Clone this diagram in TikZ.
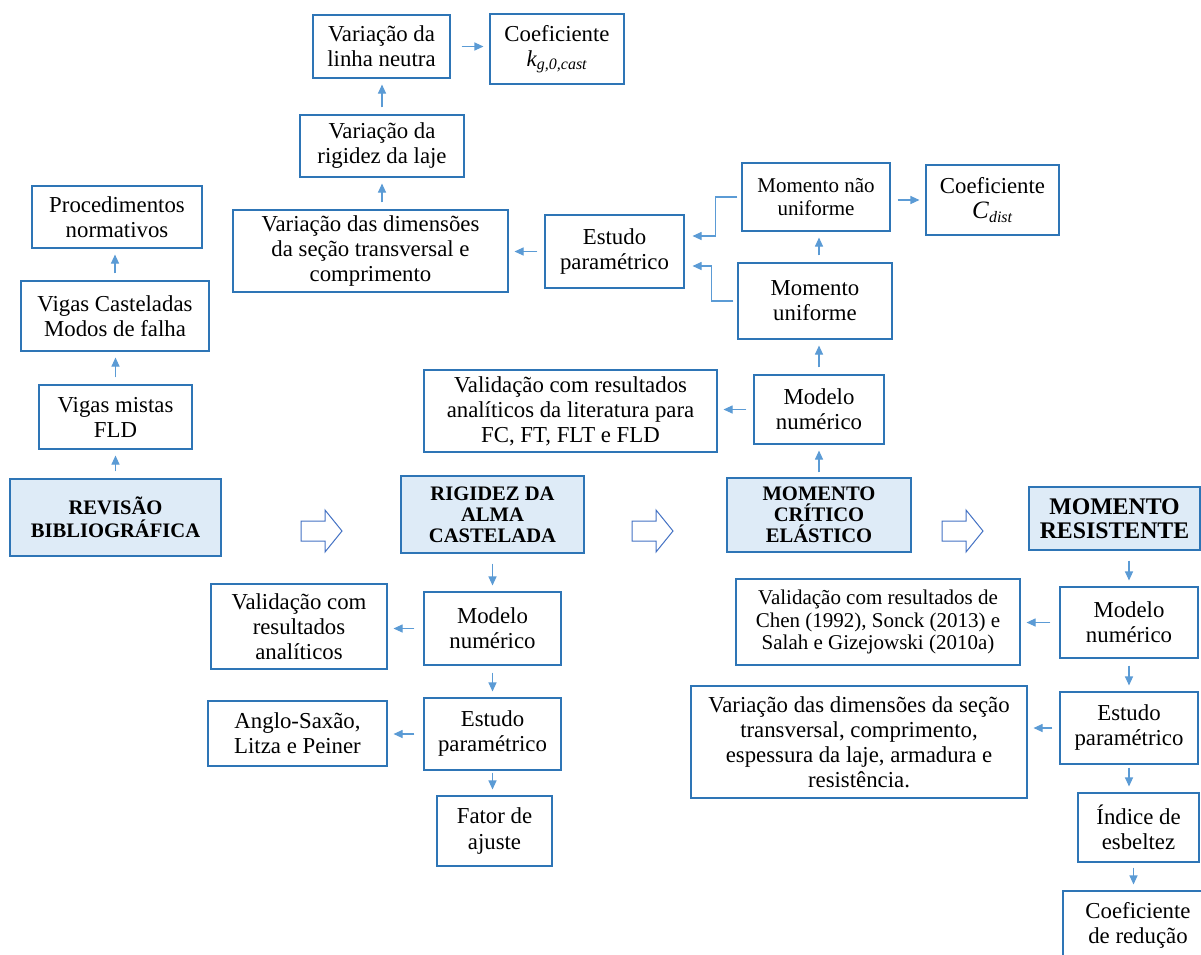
\documentclass[tikz,border=0pt]{standalone}
\usepackage{fontspec}
\setmainfont{Liberation Serif}
\usetikzlibrary{arrows.meta,calc}
\definecolor{bord}{HTML}{2E75B6}
\definecolor{arr}{HTML}{5B9BD5}
\definecolor{mainfill}{HTML}{DEEBF7}
\definecolor{hol}{HTML}{4472C4}
\begin{document}
\begin{tikzpicture}[x=1pt,y=-1pt,
  box/.style={draw=bord, line width=1.1pt, fill=white, align=center, inner sep=0pt,
    font=\fontsize{22.8}{25}\selectfont},
  smallbox/.style={box, font=\fontsize{21}{22.5}\selectfont},
  mainbox/.style={box, fill=mainfill, font=\fontsize{20.6}{21}\selectfont\bfseries},
  conn/.style={draw=arr, line width=1.1pt, -{Triangle[length=9pt,width=8pt]},
    shorten <=7pt, shorten >=6pt},
  elbow/.style={conn, shorten <=4pt, shorten >=8pt},
  hollow/.style={draw=hol, line width=1pt, fill=white},
  harrow/.pic={\draw[hollow] (0,-10) -- (24,-10) -- (24,-21) -- (41,0) -- (24,21) -- (24,10) -- (0,10) -- cycle;}
]
\path[use as bounding box] (0,0) rectangle (1201,954);
\clip (0,0) rectangle (1201,954);
\fill[white] (0,0) rectangle (1201,954);

% left column
\node[box, minimum width=170pt, minimum height=62pt] (proc) at (117,217) {Procedimentos\\normativos};
\node[box, minimum width=188pt, minimum height=70pt] (vcast) at (115,316) {Vigas Casteladas\\Modos de falha};
\node[box, minimum width=153pt, minimum height=64pt] (vmist) at (115.5,417) {Vigas mistas\\FLD};
\node[mainbox, minimum width=211pt, minimum height=77pt, font=\fontsize{20.6}{23}\selectfont\bfseries] (rev) at (115.5,517.5) {REVISÃO\\BIBLIOGRÁFICA};

% main row
\node[mainbox, minimum width=183pt, minimum height=77pt] (rig) at (492.5,514.5) {RIGIDEZ DA\\ALMA\\CASTELADA};
\node[mainbox, minimum width=184pt, minimum height=74pt] (mce) at (819,515) {MOMENTO\\CRÍTICO\\ELÁSTICO};
\node[mainbox, minimum width=171pt, minimum height=63pt, font=\fontsize{23.8}{24.5}\selectfont\bfseries] (mres) at (1114.5,518.5) {MOMENTO\\RESISTENTE};

\pic at (301,531) {harrow};
\pic at (632,531) {harrow};
\pic at (942,531) {harrow};

% top
\node[box, minimum width=137pt, minimum height=63pt] (vln) at (381.5,46.5) {Variação da\\linha neutra};
\node[box, minimum width=134pt, minimum height=70pt] (kg) at (557,49) {Coeficiente\\\textit{k}\textsubscript{\textit{g,0,cast}}};
\node[box, minimum width=164pt, minimum height=62pt] (vrl) at (382,146) {Variação da\\rigidez da laje};
\node[box, minimum width=275pt, minimum height=82pt] (vdim1) at (370.5,251) {Variação das dimensões\\da seção transversal e\\comprimento};
\node[box, minimum width=139pt, minimum height=73pt] (ep1) at (614.5,251.5) {Estudo\\paramétrico};
\node[smallbox, minimum width=148pt, minimum height=68pt] (mnu) at (816,197) {Momento não\\uniforme};
\node[box, minimum width=133pt, minimum height=70pt] (cdist) at (992.5,200) {Coeficiente\\{\fontsize{25}{25}\selectfont\textit{C}}\textsubscript{\textit{dist}}};
\node[box, minimum width=154pt, minimum height=76pt] (mu) at (815,301) {Momento\\uniforme};
\node[box, minimum width=130pt, minimum height=69pt] (mn1) at (819,409.5) {Modelo\\numérico};
\node[box, minimum width=293pt, minimum height=82pt] (val1) at (570.5,411) {Validação com resultados\\analíticos da literatura para\\FC, FT, FLT e FLD};

% below rigidez
\node[box, minimum width=137pt, minimum height=73pt] (mn2) at (492.5,628.5) {Modelo\\numérico};
\node[box, minimum width=176pt, minimum height=85pt] (va2) at (299,626.5) {Validação com\\resultados\\analíticos};
\node[box, minimum width=137pt, minimum height=72pt] (ep2) at (492.5,734) {Estudo\\paramétrico};
\node[box, minimum width=179pt, minimum height=65pt] (ang) at (297.5,733.5) {Anglo-Saxão,\\Litza e Peiner};
\node[box, minimum width=115pt, minimum height=70pt] (fat) at (494.5,831) {Fator de\\ajuste};

% right column
\node[box, minimum width=138pt, minimum height=71pt] (mn3) at (1129,622.5) {Modelo\\numérico};
\node[smallbox, minimum width=284pt, minimum height=86pt] (va3) at (878,622) {Validação com resultados de\\Chen (1992), Sonck (2013) e\\Salah e Gizejowski (2010a)};
\node[box, minimum width=138pt, minimum height=72pt] (ep3) at (1129,728) {Estudo\\paramétrico};
\node[box, minimum width=336pt, minimum height=112pt] (vd3) at (859,742) {Variação das dimensões da seção\\transversal, comprimento,\\espessura da laje, armadura e\\resistência.};
\node[box, minimum width=121pt, minimum height=69pt] (ind) at (1138.5,827.5) {Índice de\\esbeltez};
\node[box, minimum width=150pt, minimum height=69pt] (cr) at (1138,925.5) {Coeficiente\\de redução};

% connectors
\draw[conn] (rev.north) -- (rev.north |- vmist.south);
\draw[conn] (vmist.north) -- (vmist.north |- vcast.south);
\draw[conn] (vcast.north) -- (vcast.north |- proc.south);
\draw[conn] (vrl.south |- vdim1.north) -- (vrl.south);
\draw[conn] (vrl.north) -- (vrl.north |- vln.south);
\draw[conn, shorten <=11pt] (vln.east) -- (vln.east -| kg.west);
\draw[conn] (ep1.west) -- (ep1.west -| vdim1.east);
\draw[conn] (cdist.west -| mnu.east) -- (cdist.west);
\draw[conn] (mn1.north |- mu.north) -- (mn1.north |- mnu.south);
\draw[conn] (mn1.north) -- (mn1.north |- mu.south);
\draw[conn, shorten <=5pt] (mce.north -| mn1.north) -- (mn1.south);
\draw[conn] (mn1.west) -- (mn1.west -| val1.east);
\draw[elbow] (mnu.west) -- ++(-26,0) |- ($(ep1.east)+(0,-15.5)$);
\draw[elbow] (mu.west) -- ++(-26,0) |- ($(ep1.east)+(0,14.5)$);

\draw[conn, shorten <=10pt] (rig.south -| mn2.north) -- (mn2.north);
\draw[conn, shorten <=9pt] (mn2.west) -- (mn2.west -| va2.east);
\draw[conn] (mn2.south) -- (ep2.north);
\draw[conn, shorten <=9pt] (ep2.west) -- (ep2.west -| ang.east);
\draw[conn, shorten <=2pt] (ep2.south) -- (ep2.south |- fat.north);

\draw[conn, shorten <=10pt] (mn3.north |- mres.south) -- (mn3.north);
\draw[conn, shorten <=9pt] (mn3.west) -- (mn3.west -| va3.east);
\draw[conn] (mn3.south) -- (ep3.north);
\draw[conn] (ep3.west) -- (ep3.west -| vd3.east);
\draw[conn, shorten <=3pt] (ep3.south) -- (ep3.south |- ind.north);
\draw[conn, shorten <=5pt] ($(ind.south)+(-5,0)$) -- ($(ind.south |- cr.north)+(-5,0)$);
\end{tikzpicture}
\end{document}
